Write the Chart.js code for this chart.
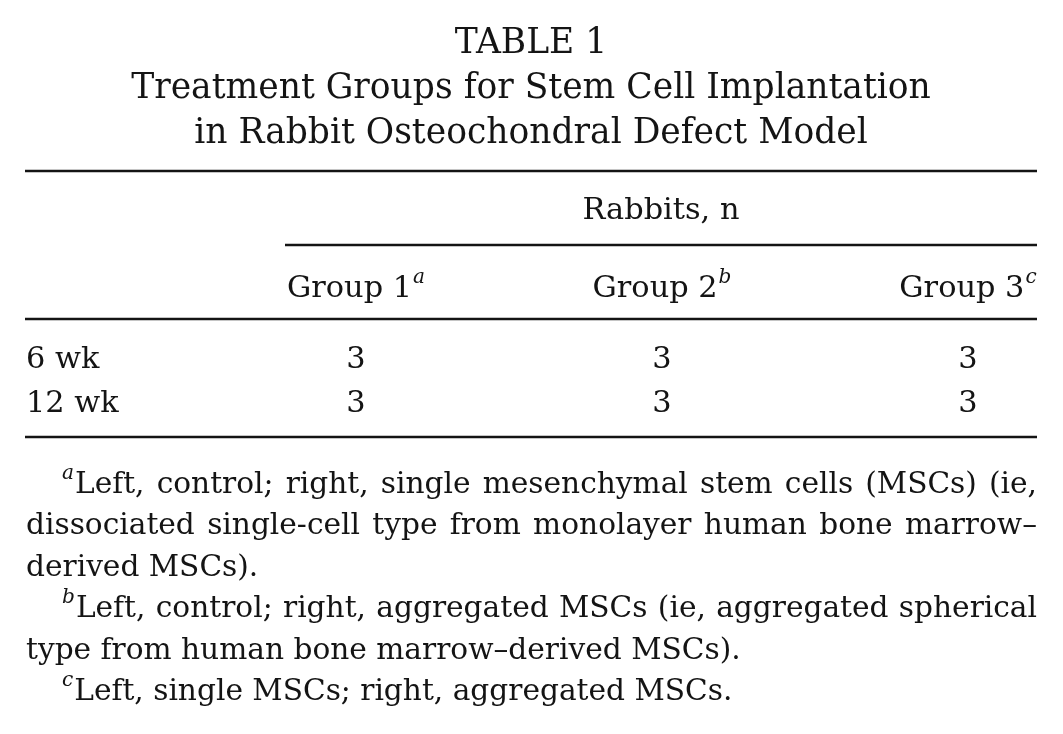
<!DOCTYPE html>
<html>
<head>
<meta charset="utf-8">
<script src="https://cdn.jsdelivr.net/npm/chart.js@4.4.1/dist/chart.umd.min.js"></script>
<style>
  html, body { margin: 0; padding: 0; background: #fff; }
  #wrap { width: 1063px; height: 734px; }
</style>
</head>
<body>
<div id="wrap"><canvas id="tableChart"></canvas></div>
<script>
// table content
const titleLines = ['TABLE 1', 'Treatment Groups for Stem Cell Implantation', 'in Rabbit Osteochondral Defect Model'];
const spannerLabel = 'Rabbits, n';
const groups = ['Group 1', 'Group 2', 'Group 3'];
const groupNotes = ['a', 'b', 'c'];
const timepoints = ['6 wk', '12 wk'];
const group1 = [3, 3];
const group2 = [3, 3];
const group3 = [3, 3];
const footnotes = [
  ['a', ['Left, control; right, single mesenchymal stem cells (MSCs) (ie,',
         'dissociated single-cell type from monolayer human bone marrow\u2013',
         'derived MSCs).']],
  ['b', ['Left, control; right, aggregated MSCs (ie, aggregated spherical',
         'type from human bone marrow\u2013derived MSCs).']],
  ['c', ['Left, single MSCs; right, aggregated MSCs.']]
];

const FAMILY = '"DejaVu Serif", "Liberation Serif", serif';
const INK = '#141414';

function fitSize(ctx, text, target, style) {
  ctx.font = (style || '') + ' 100px ' + FAMILY;
  return 100 * target / ctx.measureText(text).width;
}

function drawJustified(ctx, text, x0, x1, y) {
  const words = text.split(' ');
  const widths = words.map(w => ctx.measureText(w).width);
  const total = widths.reduce((a, b) => a + b, 0);
  const gap = (x1 - x0 - total) / (words.length - 1);
  let x = x0;
  words.forEach((w, i) => {
    ctx.fillText(w, x, y);
    x += widths[i] + gap;
  });
}

const tablePlugin = {
  id: 'tablePlugin',
  afterDraw(chart) {
    const ctx = chart.ctx;
    const xs = chart.scales.x;
    const ys = chart.scales.y;
    const left = 25, right = 1037, mid = (left + right) / 2;

    const titleSize = fitSize(ctx, titleLines[1], 800);
    const bodySize = fitSize(ctx, spannerLabel, 157);
    const noteSize = fitSize(ctx, footnotes[1][1][1], 737) * 0.97;

    ctx.save();
    ctx.fillStyle = INK;
    ctx.strokeStyle = INK;
    ctx.textBaseline = 'alphabetic';

    // title
    ctx.font = titleSize + 'px ' + FAMILY;
    ctx.textAlign = 'center';
    [53, 98, 143].forEach((y, i) => ctx.fillText(titleLines[i], mid, y));

    // rules
    ctx.lineWidth = 2.4;
    const rule = (x0, x1, y) => { ctx.beginPath(); ctx.moveTo(x0, y); ctx.lineTo(x1, y); ctx.stroke(); };
    rule(left, right, 171);
    rule(285, right, 245);
    rule(left, right, 319);
    rule(left, right, 437);

    // spanner
    ctx.font = bodySize + 'px ' + FAMILY;
    ctx.fillText(spannerLabel, (285 + right) / 2, 219);

    // column headers with superscripts
    const supSize = bodySize * 0.66;
    groups.forEach((g, i) => {
      const cx = xs.getPixelForValue(i);
      ctx.font = bodySize + 'px ' + FAMILY;
      const wMain = ctx.measureText(g).width + 1;
      ctx.font = 'italic ' + supSize + 'px ' + FAMILY;
      const wSup = ctx.measureText(groupNotes[i]).width;
      const x0 = cx - (wMain + wSup) / 2;
      ctx.textAlign = 'left';
      ctx.font = bodySize + 'px ' + FAMILY;
      ctx.fillText(g, x0, 297);
      ctx.font = 'italic ' + supSize + 'px ' + FAMILY;
      ctx.fillText(groupNotes[i], x0 + wMain, 283);
    });

    // row labels
    ctx.font = bodySize + 'px ' + FAMILY;
    ctx.textAlign = 'left';
    timepoints.forEach((t, r) => ctx.fillText(t, 26, ys.getPixelForValue(r)));

    // cell values
    ctx.textAlign = 'center';
    chart.data.datasets.forEach((ds, di) => {
      chart.getDatasetMeta(di).data.forEach((pt, k) => {
        ctx.fillText(String(ds.data[k].v), pt.x, pt.y);
      });
    });

    // footnotes
    const noteSup = noteSize * 0.68;
    let y = 493;
    const lineStep = 41.4;
    footnotes.forEach(([mark, lines]) => {
      lines.forEach((line, li) => {
        let x0 = 26;
        if (li === 0) {
          ctx.font = 'italic ' + noteSup + 'px ' + FAMILY;
          ctx.textAlign = 'left';
          ctx.fillText(mark, 62, y - 14);
          x0 = 62 + ctx.measureText(mark).width + 1;
        }
        ctx.font = noteSize + 'px ' + FAMILY;
        ctx.textAlign = 'left';
        if (li < lines.length - 1) drawJustified(ctx, line, x0, right, y);
        else ctx.fillText(line, x0, y);
        y += lineStep;
      });
    });
    ctx.restore();
  }
};

const datasets = [group1, group2, group3].map((vals, i) => ({
  label: groups[i],
  data: vals.map((v, r) => ({ x: groups[i], y: timepoints[r], v: v })),
  pointRadius: 0,
  pointHoverRadius: 0,
  showLine: false
}));

const config = {
  type: 'scatter',
  data: { datasets: datasets },
  options: {
    responsive: true,
    maintainAspectRatio: false,
    animation: false,
    events: [],
    layout: { padding: { left: 356, right: 1063 - 968, top: 368, bottom: 734 - 412 } },
    scales: {
      x: { type: 'category', labels: groups, offset: false, display: false },
      y: { type: 'category', labels: timepoints, offset: false, display: false }
    },
    plugins: { legend: { display: false }, tooltip: { enabled: false } }
  },
  plugins: [tablePlugin]
};

const tableChart = new Chart(document.getElementById('tableChart'), config);
</script>
</body>
</html>
